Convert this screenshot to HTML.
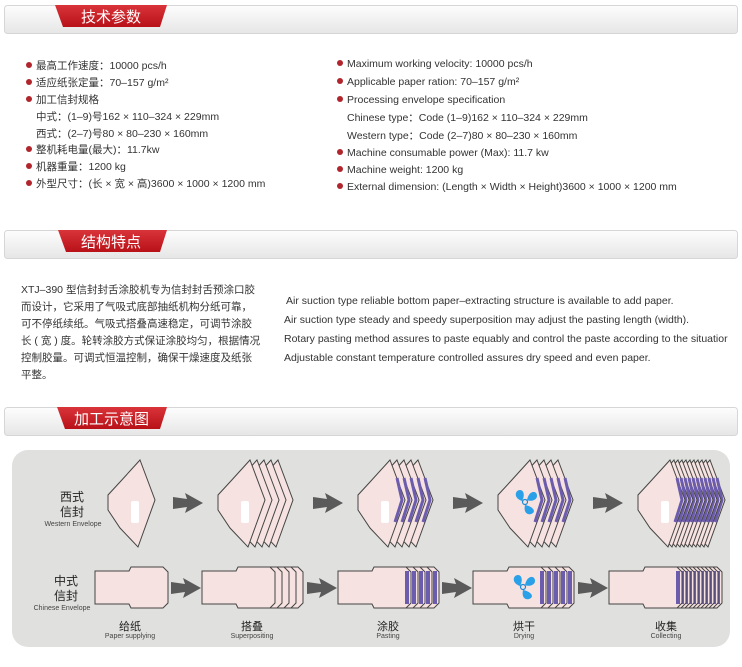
<!DOCTYPE html>
<html><head><meta charset="utf-8"><style>
body{margin:0;background:#fff;}
svg{display:block;font-family:"Liberation Sans","Noto Sans CJK SC",sans-serif;}
</style></head><body>
<svg width="742" height="667" viewBox="0 0 742 667" xmlns="http://www.w3.org/2000/svg">
<defs>
<linearGradient id="bar" x1="0" y1="0" x2="0" y2="1"><stop offset="0" stop-color="#fdfdfd"/><stop offset="1" stop-color="#e6e6e6"/></linearGradient>
<linearGradient id="tab" x1="0" y1="0" x2="0" y2="1"><stop offset="0" stop-color="#d9343a"/><stop offset="1" stop-color="#b81218"/></linearGradient>
<path id="we" d="M32,0 L47,40 L30,87 L12,68 L0,50 L0,35 L12,22 Z" fill="#f6e2e0" stroke="#444" stroke-width="1"/>
<path id="ce" d="M0,4 L34,4 L36,0 L68,0 L73,5 L73,36 L68,41 L36,41 L34,37 L0,37 Z" fill="#f6e2e0" stroke="#444" stroke-width="1"/>
<polyline id="wp" points="39,18 44,40 37,62" fill="none" stroke="#6c5cae" stroke-width="3"/>
<rect id="cp" x="67" y="4" width="4" height="33" fill="#6c5cae"/>
<polygon id="ar" points="0,-6 14,-4 12,-10 30,0 12,10 14,4 0,6" fill="#5a5a5a"/>
<g id="fan"><circle r="2.5" fill="none" stroke="#1a8ad8" stroke-width="1.2"/>
<path d="M2,-2 C4,-12 12,-12 12,-6 C12,-2 6,0 2,-2Z" fill="#2aa0e8"/>
<path d="M-3,-1 C-12,-4 -10,-12 -5,-12 C-1,-12 0,-6 -3,-1Z" fill="#2aa0e8"/>
<path d="M0,3 C-2,12 4,14 8,11 C11,8 6,4 0,3Z" fill="#2aa0e8"/></g>
</defs>

<g>
<rect x="4.5" y="5.5" width="733" height="28" rx="3" fill="url(#bar)" stroke="#d6d6d6"/>
<polygon points="55,5 167,5 160,27 63,27" fill="url(#tab)"/>
<text x="81" y="22" fill="#fff" font-size="15">技术参数</text>
<rect x="4.5" y="230.5" width="733" height="28" rx="3" fill="url(#bar)" stroke="#d6d6d6"/>
<polygon points="58,230 167,230 160,252 66,252" fill="url(#tab)"/>
<text x="81" y="247" fill="#fff" font-size="15">结构特点</text>
<rect x="4.5" y="407.5" width="733" height="28" rx="3" fill="url(#bar)" stroke="#d6d6d6"/>
<polygon points="57,407 167,407 160,429 65,429" fill="url(#tab)"/>
<text x="74" y="424" fill="#fff" font-size="15">加工示意图</text>
</g>

<g font-size="10.5" fill="#333">
<g fill="#b0262c"><circle cx="29" cy="65" r="3"/><circle cx="29" cy="82" r="3"/><circle cx="29" cy="99" r="3"/><circle cx="29" cy="149" r="3"/><circle cx="29" cy="166" r="3"/><circle cx="29" cy="183" r="3"/></g>
<text x="36" y="69">最高工作速度：10000 pcs/h</text>
<text x="36" y="86">适应纸张定量：70–157 g/m²</text>
<text x="36" y="103">加工信封规格</text>
<text x="36" y="120">中式：(1–9)号162 × 110–324 × 229mm</text>
<text x="36" y="137">西式：(2–7)号80 × 80–230 × 160mm</text>
<text x="36" y="153">整机耗电量(最大)：11.7kw</text>
<text x="36" y="170">机器重量：1200 kg</text>
<text x="36" y="187">外型尺寸：(长 × 宽 × 高)3600 × 1000 × 1200 mm</text>
</g>
<g font-size="10.5" fill="#333">
<g fill="#b0262c"><circle cx="340" cy="63" r="3"/><circle cx="340" cy="81" r="3"/><circle cx="340" cy="99" r="3"/><circle cx="340" cy="152" r="3"/><circle cx="340" cy="169" r="3"/><circle cx="340" cy="186" r="3"/></g>
<text x="347" y="67">Maximum working velocity: 10000 pcs/h</text>
<text x="347" y="85">Applicable paper ration: 70–157 g/m²</text>
<text x="347" y="103">Processing envelope specification</text>
<text x="347" y="121">Chinese type：Code (1–9)162 × 110–324 × 229mm</text>
<text x="347" y="139">Western type：Code (2–7)80 × 80–230 × 160mm</text>
<text x="347" y="156">Machine consumable power (Max): 11.7 kw</text>
<text x="347" y="173">Machine weight: 1200 kg</text>
<text x="347" y="190">External dimension: (Length × Width × Height)3600 × 1000 × 1200 mm</text>
</g>

<g font-size="10.5" fill="#333">
<text x="21" y="293">XTJ–390 型信封封舌涂胶机专为信封封舌预涂口胶</text>
<text x="21" y="310">而设计，它采用了气吸式底部抽纸机构分纸可靠，</text>
<text x="21" y="327">可不停纸续纸。气吸式搭叠高速稳定，可调节涂胶</text>
<text x="21" y="344">长 ( 宽 ) 度。轮转涂胶方式保证涂胶均匀，根据情况</text>
<text x="21" y="361">控制胶量。可调式恒温控制，确保干燥速度及纸张</text>
<text x="21" y="378">平整。</text>
<text x="286" y="304">Air suction type reliable bottom paper–extracting structure is available to add paper.</text>
<text x="284" y="323">Air suction type steady and speedy superposition may adjust the pasting length (width).</text>
<text x="284" y="342">Rotary pasting method assures to paste equably and control the paste according to the situatior</text>
<text x="284" y="361">Adjustable constant temperature controlled assures dry speed and even paper.</text>
</g>

<rect x="12" y="450" width="718" height="197" rx="16" fill="#e0e0de"/>

<g fill="#222" text-anchor="middle">
<text x="72" y="501" font-size="12">西式</text>
<text x="72" y="516" font-size="12">信封</text>
<text x="73" y="526" font-size="7" fill="#444">Western Envelope</text>
<text x="66" y="585" font-size="12">中式</text>
<text x="66" y="600" font-size="12">信封</text>
<text x="62" y="610" font-size="7" fill="#444">Chinese Envelope</text>
</g>

<g transform="translate(108,460)"><use href="#we"/><rect x="23" y="41" width="8" height="22" rx="2" fill="#fff"/></g>
<g transform="translate(218,460)">
<use href="#we" x="28"/><use href="#we" x="21"/><use href="#we" x="14"/><use href="#we" x="7"/><use href="#we"/><rect x="23" y="41" width="8" height="22" rx="2" fill="#fff"/></g>
<g transform="translate(358,460)">
<use href="#we" x="28"/><use href="#wp" x="28"/><use href="#we" x="21"/><use href="#wp" x="21"/><use href="#we" x="14"/><use href="#wp" x="14"/><use href="#we" x="7"/><use href="#wp" x="7"/><use href="#we"/><use href="#wp"/><rect x="23" y="41" width="8" height="22" rx="2" fill="#fff"/></g>
<g transform="translate(498,460)">
<use href="#we" x="28"/><use href="#wp" x="28"/><use href="#we" x="21"/><use href="#wp" x="21"/><use href="#we" x="14"/><use href="#wp" x="14"/><use href="#we" x="7"/><use href="#wp" x="7"/><use href="#we"/><use href="#wp"/><use href="#fan" x="27" y="42"/></g>
<g transform="translate(638,460)">
<use href="#we" x="40"/><use href="#wp" x="40"/><use href="#we" x="36"/><use href="#wp" x="36"/><use href="#we" x="32"/><use href="#wp" x="32"/><use href="#we" x="28"/><use href="#wp" x="28"/><use href="#we" x="24"/><use href="#wp" x="24"/><use href="#we" x="20"/><use href="#wp" x="20"/><use href="#we" x="16"/><use href="#wp" x="16"/><use href="#we" x="12"/><use href="#wp" x="12"/><use href="#we" x="8"/><use href="#wp" x="8"/><use href="#we" x="4"/><use href="#wp" x="4"/><use href="#we"/><use href="#wp"/><rect x="23" y="41" width="8" height="22" rx="2" fill="#fff"/></g>
<use href="#ar" x="173" y="503"/><use href="#ar" x="313" y="503"/><use href="#ar" x="453" y="503"/><use href="#ar" x="593" y="503"/>

<g transform="translate(95,567)"><use href="#ce"/></g>
<g transform="translate(202,567)"><use href="#ce" x="28"/><use href="#ce" x="21"/><use href="#ce" x="14"/><use href="#ce" x="7"/><use href="#ce"/></g>
<g transform="translate(338,567)"><use href="#ce" x="28"/><use href="#cp" x="28"/><use href="#ce" x="21"/><use href="#cp" x="21"/><use href="#ce" x="14"/><use href="#cp" x="14"/><use href="#ce" x="7"/><use href="#cp" x="7"/><use href="#ce"/><use href="#cp"/></g>
<g transform="translate(473,567)"><use href="#ce" x="28"/><use href="#cp" x="28"/><use href="#ce" x="21"/><use href="#cp" x="21"/><use href="#ce" x="14"/><use href="#cp" x="14"/><use href="#ce" x="7"/><use href="#cp" x="7"/><use href="#ce"/><use href="#cp"/><use href="#fan" x="50" y="20"/></g>
<g transform="translate(609,567)"><use href="#ce" x="40"/><use href="#cp" x="40"/><use href="#ce" x="36"/><use href="#cp" x="36"/><use href="#ce" x="32"/><use href="#cp" x="32"/><use href="#ce" x="28"/><use href="#cp" x="28"/><use href="#ce" x="24"/><use href="#cp" x="24"/><use href="#ce" x="20"/><use href="#cp" x="20"/><use href="#ce" x="16"/><use href="#cp" x="16"/><use href="#ce" x="12"/><use href="#cp" x="12"/><use href="#ce" x="8"/><use href="#cp" x="8"/><use href="#ce" x="4"/><use href="#cp" x="4"/><use href="#ce"/><use href="#cp"/></g>
<use href="#ar" x="171" y="588"/><use href="#ar" x="307" y="588"/><use href="#ar" x="442" y="588"/><use href="#ar" x="578" y="588"/>

<g fill="#222" text-anchor="middle">
<text x="130" y="630" font-size="11">给纸</text><text x="130" y="638" font-size="7" fill="#444">Paper supplying</text>
<text x="252" y="630" font-size="11">搭叠</text><text x="252" y="638" font-size="7" fill="#444">Superpositing</text>
<text x="388" y="630" font-size="11">涂胶</text><text x="388" y="638" font-size="7" fill="#444">Pasting</text>
<text x="524" y="630" font-size="11">烘干</text><text x="524" y="638" font-size="7" fill="#444">Drying</text>
<text x="666" y="630" font-size="11">收集</text><text x="666" y="638" font-size="7" fill="#444">Collecting</text>
</g>
</svg>
</body></html>
